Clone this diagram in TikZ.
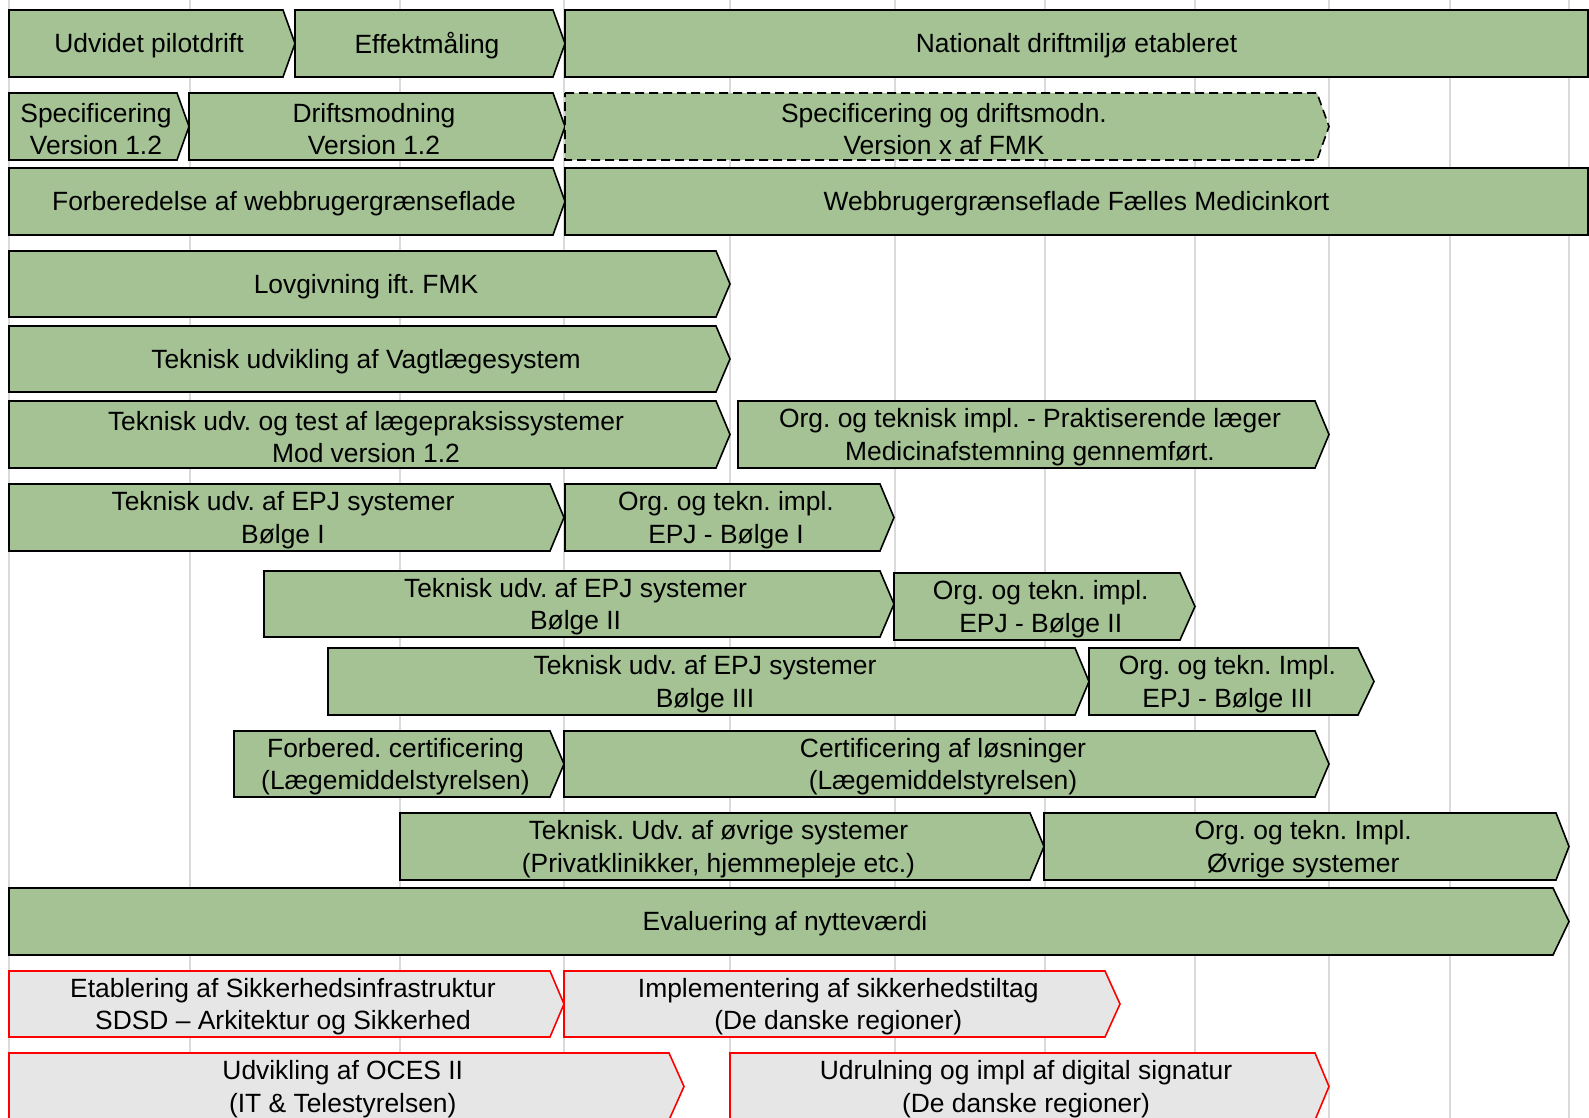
\documentclass[tikz,border=0pt]{standalone}
\usepackage{fontspec}
\setmainfont{Liberation Sans}
\frenchspacing
\definecolor{barfill}{RGB}{164,194,148}
\definecolor{grayfill}{RGB}{230,230,230}
\definecolor{gridc}{RGB}{218,218,218}
\tikzset{
  greenbar/.style={fill=barfill,draw=black,line width=1.6pt,line join=miter},
  dashbar/.style={greenbar,dash pattern=on 9pt off 5pt},
  redbar/.style={fill=grayfill,draw=red,line width=1.6pt,line join=miter},
  lbl/.style={align=center,inner sep=0pt,yshift=-2.5pt,font=\fontsize{26.4}{32.4}\selectfont},
  gridline/.style={draw=gridc,line width=2pt}
}
\newcommand\gbar[8]{%
  \draw[#2] (#3,#6) -- (#4,#6) -- (#5,{(#6+#7)/2}) -- (#4,#7) -- (#3,#7) -- cycle;
  \node[lbl] (#1) at ({(#3+#4)/2+(#5-#4)/4},{(#6+#7)/2}) {#8};}
\begin{document}
\begin{tikzpicture}[x=1pt,y=-1pt]
\useasboundingbox (0,0) rectangle (1589,1118);
\clip (0,0) rectangle (1589,1118);
\fill[white] (0,0) rectangle (1589,1118);
\foreach \gx in {9,190,400,564,730,895,1045,1195,1329,1450,1569}
  \draw[gridline] (\gx,0) -- (\gx,1118);
% row 1
\gbar{udv}{greenbar}{9}{283}{295}{10}{77}{Udvidet pilotdrift}
\gbar{eff}{greenbar}{295}{553}{565}{10}{77}{Effektmåling}
\gbar{nat}{greenbar}{565}{1588}{1588}{10}{77}{Nationalt driftmiljø etableret}
% row 2
\gbar{spec}{greenbar}{9}{177}{189}{93}{160}{Specificering\\Version 1.2}
\gbar{drift}{greenbar}{189}{553}{565}{93}{160}{Driftsmodning\\Version 1.2}
\gbar{specx}{dashbar}{565}{1317}{1329}{93}{160}{Specificering og driftsmodn.\\Version x af FMK}
% row 3
\gbar{forb}{greenbar}{9}{553}{565}{168}{235}{Forberedelse af webbrugergrænseflade}
\gbar{web}{greenbar}{565}{1588}{1588}{168}{235}{Webbrugergrænseflade Fælles Medicinkort}
% rows 4-6
\gbar{lov}{greenbar}{9}{716}{730}{251}{317}{Lovgivning ift. FMK}
\gbar{vagt}{greenbar}{9}{716}{730}{326}{392}{Teknisk udvikling af Vagtlægesystem}
\gbar{laege}{greenbar}{9}{716}{730}{401}{468}{Teknisk udv. og test af lægepraksissystemer\\Mod version 1.2}
\gbar{prak}{greenbar}{738}{1315}{1329}{401}{468}{Org. og teknisk impl. - Praktiserende læger\\Medicinafstemning gennemført.}
% rows 7-9
\gbar{epja}{greenbar}{9}{550}{564}{484}{551}{Teknisk udv. af EPJ systemer\\Bølge I}
\gbar{impla}{greenbar}{565}{880}{894}{484}{551}{Org. og tekn. impl.\\EPJ - Bølge I}
\gbar{epjb}{greenbar}{264}{880}{894}{571}{637}{Teknisk udv. af EPJ systemer\\Bølge II}
\gbar{implb}{greenbar}{894}{1180}{1195}{573}{640}{Org. og tekn. impl.\\EPJ - Bølge II}
\gbar{epjc}{greenbar}{328}{1075}{1089}{648}{715}{Teknisk udv. af EPJ systemer\\Bølge III}
\gbar{implc}{greenbar}{1089}{1358}{1374}{648}{715}{Org. og tekn. Impl.\\EPJ - Bølge III}
% row 10-12
\gbar{fcert}{greenbar}{234}{550}{564}{731}{797}{Forbered. certificering\\(Lægemiddelstyrelsen)}
\gbar{cert}{greenbar}{564}{1315}{1329}{731}{797}{Certificering af løsninger\\(Lægemiddelstyrelsen)}
\gbar{ovr}{greenbar}{400}{1030}{1044}{813}{880}{Teknisk. Udv. af øvrige systemer\\(Privatklinikker, hjemmepleje etc.)}
\gbar{ovrimpl}{greenbar}{1044}{1556}{1569}{813}{880}{Org. og tekn. Impl.\\Øvrige systemer}
\gbar{eval}{greenbar}{9}{1553}{1569}{888}{955}{Evaluering af nytteværdi}
% red rows
\gbar{sik}{redbar}{9}{550}{564}{971}{1037}{Etablering af Sikkerhedsinfrastruktur\\SDSD – Arkitektur og Sikkerhed}
\gbar{sikimpl}{redbar}{564}{1105}{1120}{971}{1037}{Implementering af sikkerhedstiltag\\(De danske regioner)}
\gbar{oces}{redbar}{9}{669}{684}{1053}{1120}{Udvikling af OCES II\\(IT \& Telestyrelsen)}
\gbar{digsig}{redbar}{730}{1315}{1329}{1053}{1120}{Udrulning og impl af digital signatur\\(De danske regioner)}
\end{tikzpicture}
\end{document}
